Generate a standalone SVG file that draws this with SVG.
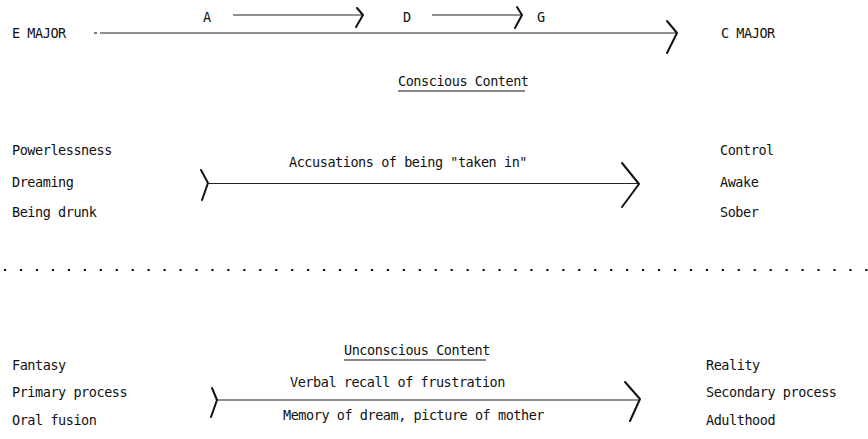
<svg xmlns="http://www.w3.org/2000/svg" width="868" height="439" viewBox="0 0 868 439">
  <style>
    text { font-family: "DejaVu Sans Mono", "Liberation Mono", monospace; font-size: 13.5px; letter-spacing: -0.45px; fill: #111; }
    .shaft { stroke: #222; stroke-width: 1.2; fill: none; }
    .head { stroke: #111; stroke-width: 2; fill: none; stroke-linecap: round; stroke-linejoin: round; }
    .rule { stroke: #111; stroke-width: 1.2; }
    .dots { stroke: #111; stroke-width: 2.2; stroke-dasharray: 2.2 13.75; }
  </style>
  <rect width="868" height="439" fill="#fff"/>

  <!-- key labels -->
  <g id="e-major"><text x="12" y="38">E MAJOR</text></g>
  <g id="c-major"><text x="721" y="38">C MAJOR</text></g>
  <g id="key-a"><text x="203" y="22">A</text></g>
  <g id="key-d"><text x="403" y="22">D</text></g>
  <g id="key-g"><text x="537" y="22">G</text></g>

  <!-- conscious section -->
  <g id="conscious-title">
    <text x="398" y="86">Conscious Content</text>
    <line class="rule" x1="398" y1="91" x2="525" y2="91"/>
  </g>
  <g id="conscious-left">
    <text x="12" y="155">Powerlessness</text>
    <text x="12" y="187">Dreaming</text>
    <text x="12" y="217">Being drunk</text>
  </g>
  <g id="conscious-right">
    <text x="720" y="155">Control</text>
    <text x="720" y="187">Awake</text>
    <text x="720" y="217">Sober</text>
  </g>
  <g id="conscious-arrow-label"><text x="289" y="167">Accusations of being "taken in"</text></g>

  <!-- divider -->
  <line class="dots" x1="4" y1="270" x2="868" y2="270"/>

  <!-- unconscious section -->
  <g id="unconscious-title">
    <text x="344" y="355">Unconscious Content</text>
    <line class="rule" x1="344" y1="360" x2="486" y2="360"/>
  </g>
  <g id="unconscious-left">
    <text x="12" y="370">Fantasy</text>
    <text x="12" y="397">Primary process</text>
    <text x="12" y="425">Oral fusion</text>
  </g>
  <g id="unconscious-right">
    <text x="706" y="370">Reality</text>
    <text x="706" y="397">Secondary process</text>
    <text x="706" y="425">Adulthood</text>
  </g>
  <g id="unconscious-arrow-labels">
    <text x="290" y="387">Verbal recall of frustration</text>
    <text x="283" y="420">Memory of dream, picture of mother</text>
  </g>

  <!-- connectors -->
  <g id="connectors">
    <!-- A to D -->
    <line class="shaft" x1="233" y1="15" x2="362" y2="15"/>
    <polyline class="head" points="357,8 363,15 356,27"/>
    <!-- D to G -->
    <line class="shaft" x1="432" y1="15" x2="521" y2="15"/>
    <polyline class="head" points="517,7 522,15 515,28"/>
    <!-- E major to C major -->
    <line class="shaft" x1="94" y1="33" x2="97" y2="33"/>
    <line class="shaft" x1="100" y1="33" x2="676" y2="33"/>
    <polyline class="head" points="667,21 677,33 667,53"/>
    <!-- conscious arrow -->
    <polyline class="head" points="201,170 208,183 202,200"/>
    <line class="shaft" x1="208" y1="183.5" x2="638" y2="183.5"/>
    <polyline class="head" points="622,163 639,184 622,207"/>
    <!-- unconscious arrow -->
    <polyline class="head" points="212,388 217,400 211,417"/>
    <line class="shaft" x1="217" y1="400" x2="639" y2="400"/>
    <polyline class="head" points="625,382 640,399 630,421"/>
  </g>
</svg>
